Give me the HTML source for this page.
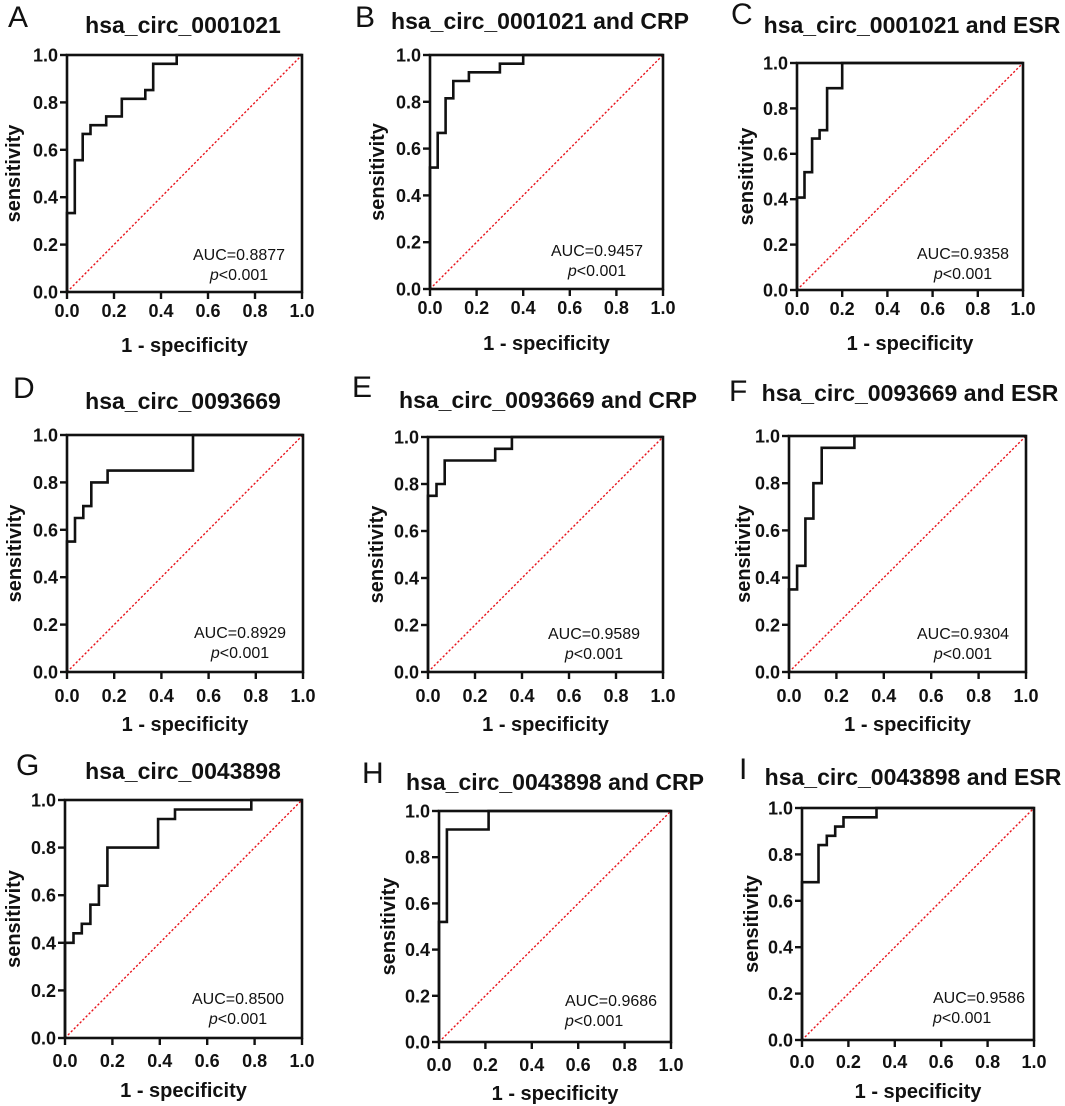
<!DOCTYPE html>
<html><head><meta charset="utf-8">
<style>
html,body{margin:0;padding:0;background:#fff;}
svg{display:block;font-family:"Liberation Sans",Arial,sans-serif;}
</style></head>
<body>
<svg id="fig" width="1065" height="1106" viewBox="0 0 1065 1106" xmlns="http://www.w3.org/2000/svg"></svg>
<script>
// ROC data (1 - specificity, sensitivity) for each panel
const aFpr = [0, 0, 0.033, 0.033, 0.067, 0.067, 0.1, 0.1, 0.167, 0.167, 0.233, 0.233, 0.333, 0.333, 0.367, 0.367, 0.467, 0.467, 1.0];
const aTpr = [0, 0.333, 0.333, 0.556, 0.556, 0.667, 0.667, 0.704, 0.704, 0.741, 0.741, 0.815, 0.815, 0.852, 0.852, 0.963, 0.963, 1.0, 1.0];
const bFpr = [0, 0, 0.033, 0.033, 0.067, 0.067, 0.1, 0.1, 0.167, 0.167, 0.3, 0.3, 0.4, 0.4, 1.0];
const bTpr = [0, 0.519, 0.519, 0.667, 0.667, 0.815, 0.815, 0.889, 0.889, 0.926, 0.926, 0.963, 0.963, 1.0, 1.0];
const cFpr = [0, 0, 0.033, 0.033, 0.067, 0.067, 0.1, 0.1, 0.133, 0.133, 0.2, 0.2, 1.0];
const cTpr = [0, 0.407, 0.407, 0.519, 0.519, 0.667, 0.667, 0.704, 0.704, 0.889, 0.889, 1.0, 1.0];
const dFpr = [0, 0, 0.034, 0.034, 0.069, 0.069, 0.103, 0.103, 0.172, 0.172, 0.534, 0.534, 1.0];
const dTpr = [0, 0.55, 0.55, 0.65, 0.65, 0.70, 0.70, 0.80, 0.80, 0.85, 0.85, 1.0, 1.0];
const eFpr = [0, 0, 0.036, 0.036, 0.071, 0.071, 0.286, 0.286, 0.357, 0.357, 1.0];
const eTpr = [0, 0.75, 0.75, 0.80, 0.80, 0.90, 0.90, 0.95, 0.95, 1.0, 1.0];
const fFpr = [0, 0, 0.034, 0.034, 0.069, 0.069, 0.103, 0.103, 0.138, 0.138, 0.276, 0.276, 1.0];
const fTpr = [0, 0.35, 0.35, 0.45, 0.45, 0.65, 0.65, 0.80, 0.80, 0.95, 0.95, 1.0, 1.0];
const gFpr = [0, 0, 0.036, 0.036, 0.071, 0.071, 0.107, 0.107, 0.143, 0.143, 0.179, 0.179, 0.393, 0.393, 0.464, 0.464, 0.786, 0.786, 1.0];
const gTpr = [0, 0.40, 0.40, 0.44, 0.44, 0.48, 0.48, 0.56, 0.56, 0.64, 0.64, 0.80, 0.80, 0.92, 0.92, 0.96, 0.96, 1.0, 1.0];
const hFpr = [0, 0, 0.034, 0.034, 0.214, 0.214, 1.0];
const hTpr = [0, 0.52, 0.52, 0.92, 0.92, 1.0, 1.0];
const iFpr = [0, 0, 0.071, 0.071, 0.107, 0.107, 0.143, 0.143, 0.179, 0.179, 0.321, 0.321, 1.0];
const iTpr = [0, 0.68, 0.68, 0.84, 0.84, 0.88, 0.88, 0.92, 0.92, 0.96, 0.96, 1.0, 1.0];
const tickValues = [0, 0.2, 0.4, 0.6, 0.8, 1.0];
const tickLabels = ["0.0", "0.2", "0.4", "0.6", "0.8", "1.0"];
const aucLabels = ["AUC=0.8877","AUC=0.9457","AUC=0.9358","AUC=0.8929","AUC=0.9589","AUC=0.9304","AUC=0.8500","AUC=0.9686","AUC=0.9586"];
const titles = ["hsa_circ_0001021","hsa_circ_0001021 and CRP","hsa_circ_0001021 and ESR","hsa_circ_0093669","hsa_circ_0093669 and CRP","hsa_circ_0093669 and ESR","hsa_circ_0043898","hsa_circ_0043898 and CRP","hsa_circ_0043898 and ESR"];
const letters = ["A","B","C","D","E","F","G","H","I"];
const fprSets = [aFpr,bFpr,cFpr,dFpr,eFpr,fFpr,gFpr,hFpr,iFpr];
const tprSets = [aTpr,bTpr,cTpr,dTpr,eTpr,fTpr,gTpr,hTpr,iTpr];

// layout (pixel geometry)
const layout = [
 {x0:67,x1:302,y0:55,y1:292, lx:8,ly:27, tx:183,ty:33, ylx:13, ax:239,ay:260,aAnchor:"middle", xtY:317, xtitleY:352},
 {x0:430,x1:663,y0:55,y1:289, lx:355,ly:27, tx:540,ty:29, ylx:377, ax:597,ay:256,aAnchor:"middle", xtY:314, xtitleY:350},
 {x0:797,x1:1023,y0:63,y1:290, lx:731,ly:24, tx:912,ty:33, ylx:746, ax:963,ay:259,aAnchor:"middle", xtY:315, xtitleY:350},
 {x0:67,x1:303,y0:435,y1:672, lx:13,ly:398, tx:183,ty:409, ylx:14, ax:240,ay:638,aAnchor:"middle", xtY:702, xtitleY:731},
 {x0:428,x1:663,y0:437,y1:672, lx:352,ly:397, tx:548,ty:408, ylx:376, ax:594,ay:639,aAnchor:"middle", xtY:702, xtitleY:731},
 {x0:789,x1:1026,y0:436,y1:672, lx:729,ly:401, tx:910,ty:401, ylx:743, ax:963,ay:639,aAnchor:"middle", xtY:702, xtitleY:731},
 {x0:65,x1:302,y0:800,y1:1038, lx:16,ly:775, tx:183,ty:779, ylx:13, ax:238,ay:1004,aAnchor:"middle", xtY:1067, xtitleY:1097},
 {x0:439,x1:671,y0:811,y1:1042, lx:362,ly:783, tx:555,ty:790, ylx:388, ax:565,ay:1006,aAnchor:"start", xtY:1071, xtitleY:1100},
 {x0:802,x1:1034,y0:808,y1:1040, lx:739,ly:779, tx:913,ty:785, ylx:751, ax:933,ay:1003,aAnchor:"start", xtY:1068, xtitleY:1098}
];

const NS = "http://www.w3.org/2000/svg";
const svg = document.getElementById("fig");
function mk(tag, attrs, parent, text){
  const el = document.createElementNS(NS, tag);
  for (const k in attrs) el.setAttribute(k, attrs[k]);
  if (text !== undefined) el.textContent = text;
  parent.appendChild(el);
  return el;
}

layout.forEach((L, p) => {
  const g = mk("g", {}, svg);
  
  
  const sx = v => L.x0 + v * (L.x1 - L.x0);
  const sy = v => L.y1 - v * (L.y1 - L.y0);

  const letter = mk("text", {x:L.lx, y:L.ly, "font-size":30, fill:"#111"}, g, letters[p]);
  
  

  const title = mk("text", {x:L.tx, y:L.ty, "font-size":23, "font-weight":"bold", "text-anchor":"middle", fill:"#111"}, g, titles[p]);
  
  

  // diagonal reference line
  const diag = mk("line", {x1:sx(0), y1:sy(0), x2:sx(1), y2:sy(1), stroke:"#e8141c", "stroke-width":1.4, "stroke-dasharray":"2.2 2"}, g);
  
  

  // ROC curve
  const fpr = fprSets[p], tpr = tprSets[p];
  const pts = fpr.map((f, i) => sx(f).toFixed(1) + "," + sy(tpr[i]).toFixed(1)).join(" ");
  const curve = mk("polyline", {points:pts, fill:"none", stroke:"#111", "stroke-width":2.6, "stroke-linejoin":"miter"}, g);
  
  

  // frame
  const frame = mk("rect", {x:L.x0, y:L.y0, width:L.x1-L.x0, height:L.y1-L.y0, fill:"none", stroke:"#111", "stroke-width":2.6}, g);
  
  

  // ticks
  tickValues.forEach((v, i) => {
    const xt = mk("line", {x1:sx(v), y1:L.y1, x2:sx(v), y2:L.y1+7, stroke:"#111", "stroke-width":2.4}, g);
    
    
    const xl = mk("text", {x:sx(v), y:L.xtY, "font-size":18, "font-weight":"bold", "text-anchor":"middle", fill:"#111"}, g, tickLabels[i]);
    
    
    const yt = mk("line", {x1:L.x0-7, y1:sy(v), x2:L.x0, y2:sy(v), stroke:"#111", "stroke-width":2.4}, g);
    
    
    const yl = mk("text", {x:L.x0-9, y:sy(v)+6.5, "font-size":18, "font-weight":"bold", "text-anchor":"end", fill:"#111"}, g, tickLabels[i]);
    
    
  });

  const xTitle = mk("text", {x:(L.x0+L.x1)/2, y:L.xtitleY, "font-size":20, "font-weight":"bold", "text-anchor":"middle", fill:"#111"}, g, "1 - specificity");
  
  

  const cy = (L.y0 + L.y1) / 2;
  const yTitle = mk("text", {x:0, y:0, "font-size":20, "font-weight":"bold", "text-anchor":"middle", fill:"#111",
     transform:"translate(" + (L.ylx+7) + "," + cy + ") rotate(-90)"}, g, "sensitivity");
  
  

  const auc = mk("text", {x:L.ax, y:L.ay, "font-size":16, "text-anchor":L.aAnchor, fill:"#111"}, g, aucLabels[p]);
  
  
  const pv = mk("text", {x:L.ax, y:L.ay+20, "font-size":16, "text-anchor":L.aAnchor, fill:"#111"}, g);
  
  
  mk("tspan", {"font-style":"italic"}, pv, "p");
  mk("tspan", {}, pv, "<0.001");
});
</script>
</body></html>
